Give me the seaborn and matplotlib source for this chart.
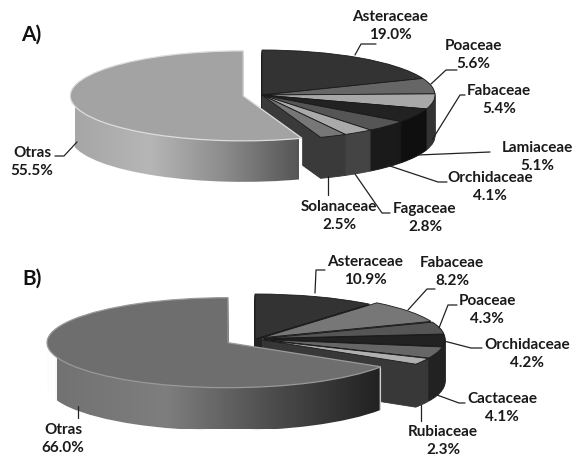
import numpy as np
import matplotlib
matplotlib.use('Agg')
import matplotlib.pyplot as plt
from matplotlib.path import Path
import seaborn as sns

# panel A
familias_a = ['Asteraceae', 'Poaceae', 'Fabaceae', 'Lamiaceae', 'Orchidaceae', 'Fagaceae', 'Solanaceae', 'Otras']
valores_a = [19.0, 5.6, 5.4, 5.1, 4.1, 2.8, 2.5, 55.5]

# panel B
familias_b = ['Asteraceae', 'Fabaceae', 'Poaceae', 'Orchidaceae', 'Cactaceae', 'Rubiaceae', 'Otras']
valores_b = [10.9, 8.2, 4.3, 4.2, 4.1, 2.3, 66.0]

# colores
tapa_a = ['#333333', '#666666', '#a8a8a8', '#222222', '#555555', '#aaaaaa', '#777777', '#a3a3a3']
lado_a = ['#222222', '#444444', '#333333', '#0f0f0f', '#1a1a1a', '#444444', '#3a3a3a', '#888888']
tapa_b = ['#333333', '#777777', '#555555', '#222222', '#666666', '#b0b0b0', '#6e6e6e']
lado_b = ['#222222', '#444444', '#333333', '#222222', '#222222', '#383838', '#555555']

# layout (pixeles de la imagen)
explode_a = [0, 0, 0, 0, 0, 0, 0, 0.11]
explode_b = [0, 0.05, 0.05, 0.05, 0.05, 0.05, 0.17]

pos_a = {'Asteraceae': (390, 26), 'Poaceae': (473, 55), 'Fabaceae': (499, 100), 'Lamiaceae': (537, 157),
         'Orchidaceae': (490, 187), 'Fagaceae': (425, 218), 'Solanaceae': (339, 216), 'Otras': (32, 162)}
pos_b = {'Asteraceae': (365, 271), 'Fabaceae': (452, 272), 'Poaceae': (487, 310), 'Orchidaceae': (527, 354),
         'Cactaceae': (502, 408), 'Rubiaceae': (443, 441), 'Otras': (63, 439)}

lineas_a = [[(355, 55), (361, 44), (376, 44)], [(431, 84), (446, 70), (457, 70)],
            [(432, 140), (460, 95), (465, 95)], [(418, 155), (490, 152)],
            [(387, 165), (438, 182), (447, 182)], [(355, 174), (382, 213), (390, 213)],
            [(328, 176), (328, 195)], [(77, 142), (64, 156), (55, 156)]]
lineas_b = [[(315, 293), (316, 270), (325, 270)], [(408, 310), (427, 289), (435, 289)],
            [(439, 328), (448, 305), (457, 305)], [(444, 341), (471, 348), (482, 348)],
            [(437, 395), (459, 403), (465, 403)], [(421, 405), (421, 421)], [(78, 406), (78, 418)]]

W, H = 575, 462

sns.set_theme(style='white')
plt.rcParams['font.family'] = ['Lato', 'DejaVu Sans']

fig = plt.figure(figsize=(W / 100, H / 100), dpi=100, facecolor='white')


def capa(ax, valores, explode, colores, y, solo_otras):
    # una capa del pastel; la ultima rebanada (Otras) se dibuja aparte para que quede encima
    wedges, _ = ax.pie(valores, explode=explode, colors=colores, startangle=90, counterclock=False,
                       center=(0, y), radius=1)
    for i, w in enumerate(wedges):
        w.set_visible((i == len(wedges) - 1) == solo_otras)
    return wedges


def pastel(valores, explode, tapa, lado, cx, cy, rx, ry, prof, grad, grad_lim, borde):
    ax = fig.add_axes([0, 0, 1, 1], facecolor='none')
    ys = [-k / ry for k in range(prof, 0, -1)]

    for y in ys:
        for w in capa(ax, valores, explode, lado, y, False):
            w.set_edgecolor(w.get_facecolor())
            w.set_linewidth(0.6)
    for w in capa(ax, valores, explode, tapa, 0, False):
        w.set_edgecolor('#1a1a1a')
        w.set_linewidth(0.6)

    trozos = []
    for y in ys:
        w = capa(ax, valores, explode, lado, y, True)[-1]
        trozos.append(w.get_path().transformed(w.get_patch_transform()))
    # degradado horizontal del costado de Otras
    cmap = sns.blend_palette(grad, as_cmap=True)
    x0, x1 = (grad_lim[0] - cx) / rx, (grad_lim[1] - cx) / rx
    im = ax.imshow(np.linspace(0, 1, 256)[None, :], cmap=cmap, aspect='auto',
                   extent=(x0, x1, -2, 2), zorder=1.5)
    im.set_clip_path(Path.make_compound_path(*trozos), ax.transData)

    w = capa(ax, valores, explode, tapa, 0, True)[-1]
    w.set_edgecolor(borde)
    w.set_linewidth(0.9)
    w.set_zorder(2)

    ax.set_aspect('auto')
    ax.set_xlim(-cx / rx, (W - cx) / rx)
    ax.set_ylim((cy - H) / ry, cy / ry)
    ax.axis('off')


pastel(valores_a, explode_a, tapa_a, lado_a, 262, 95, 173, 45, 41,
       ['#a6a6a6', '#b6b6b6', '#8c8c8c', '#555555'], (75, 299), '#dddddd')
pastel(valores_b, explode_b, tapa_b, lado_b, 255, 339, 181, 45, 43,
       ['#727272', '#7e7e7e', '#4c4c4c', '#202020'], (57, 383), '#999999')

# textos y lineas guia
over = fig.add_axes([0, 0, 1, 1], facecolor='none')
over.set_xlim(0, W)
over.set_ylim(H, 0)
over.axis('off')

for familias, valores, pos, lineas in [(familias_a, valores_a, pos_a, lineas_a),
                                       (familias_b, valores_b, pos_b, lineas_b)]:
    for f, v, linea in zip(familias, valores, lineas):
        x, y = pos[f]
        over.text(x, y, f'{f}\n{v:.1f}%', ha='center', va='center', fontsize=11, fontweight='bold',
                  color='#1a1a1a', linespacing=1.35)
        over.plot([p[0] for p in linea], [p[1] for p in linea], color='#222222', lw=0.9)

over.text(31, 35, 'A)', ha='center', va='center', fontsize=15, fontweight='bold', color='#111111')
over.text(32, 279, 'B)', ha='center', va='center', fontsize=15, fontweight='bold', color='#111111')

fig.savefig('out.png', dpi=100)
